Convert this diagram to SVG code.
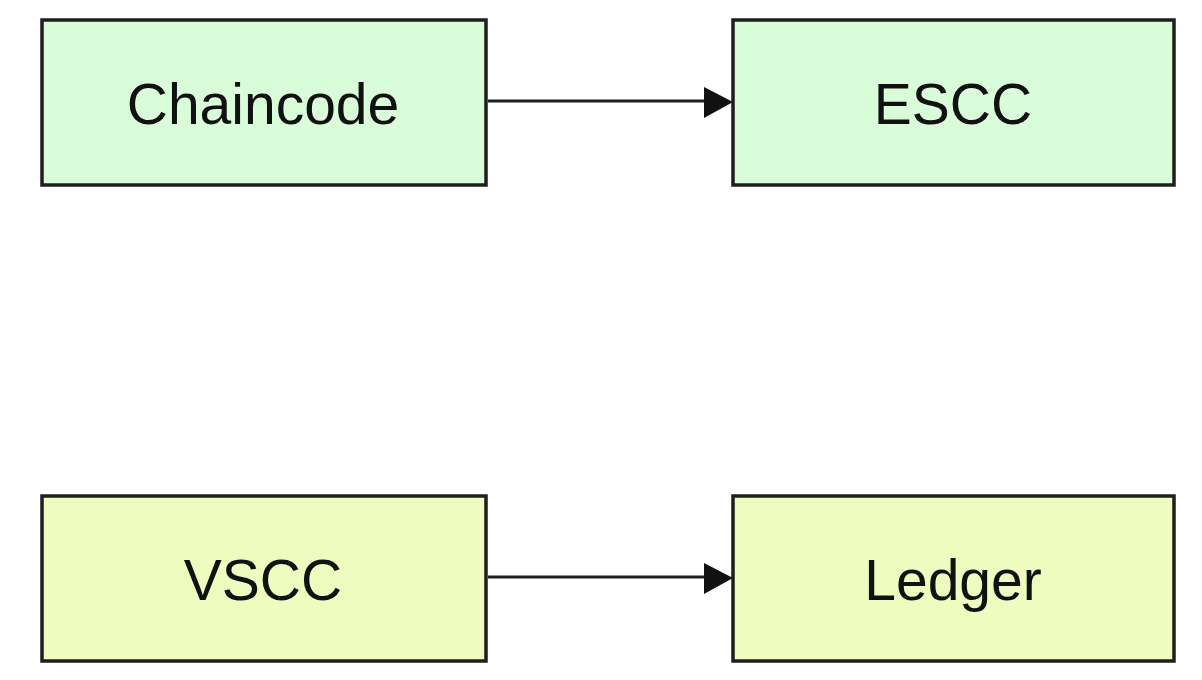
<svg xmlns="http://www.w3.org/2000/svg" width="1202" height="680" viewBox="0 0 1202 680">
<style>
.box{stroke:#1e1e1e;stroke-width:3.5}
.g{fill:#d9fcd9}
.y{fill:#eefcbf}
.t{font-family:"Comic Sans MS","Liberation Sans",sans-serif;font-size:57px;fill:#111;text-anchor:middle}
.c{stroke:#1e1e1e;stroke-width:3;fill:none}
</style>
<rect width="1202" height="680" fill="#fff"/>
<g id="chaincode"><rect class="box g" x="42" y="20" width="444" height="165"/><text class="t" x="263" y="124">Chaincode</text></g>
<g id="escc"><rect class="box g" x="733" y="20" width="441" height="165"/><text class="t" x="953" y="124">ESCC</text></g>
<g id="vscc"><rect class="box y" x="42" y="496" width="444" height="165"/><text class="t" x="263" y="600">VSCC</text></g>
<g id="ledger"><rect class="box y" x="733" y="496" width="441" height="165"/><text class="t" x="953" y="600">Ledger</text></g>
<g id="connectors">
<line class="c" x1="488" y1="101" x2="705" y2="101"/>
<path d="M704,87 L733,102 L704,118 z" fill="#111"/>
<line class="c" x1="488" y1="577" x2="705" y2="577"/>
<path d="M704,563 L733,578 L704,594 z" fill="#111"/>
</g>
</svg>
